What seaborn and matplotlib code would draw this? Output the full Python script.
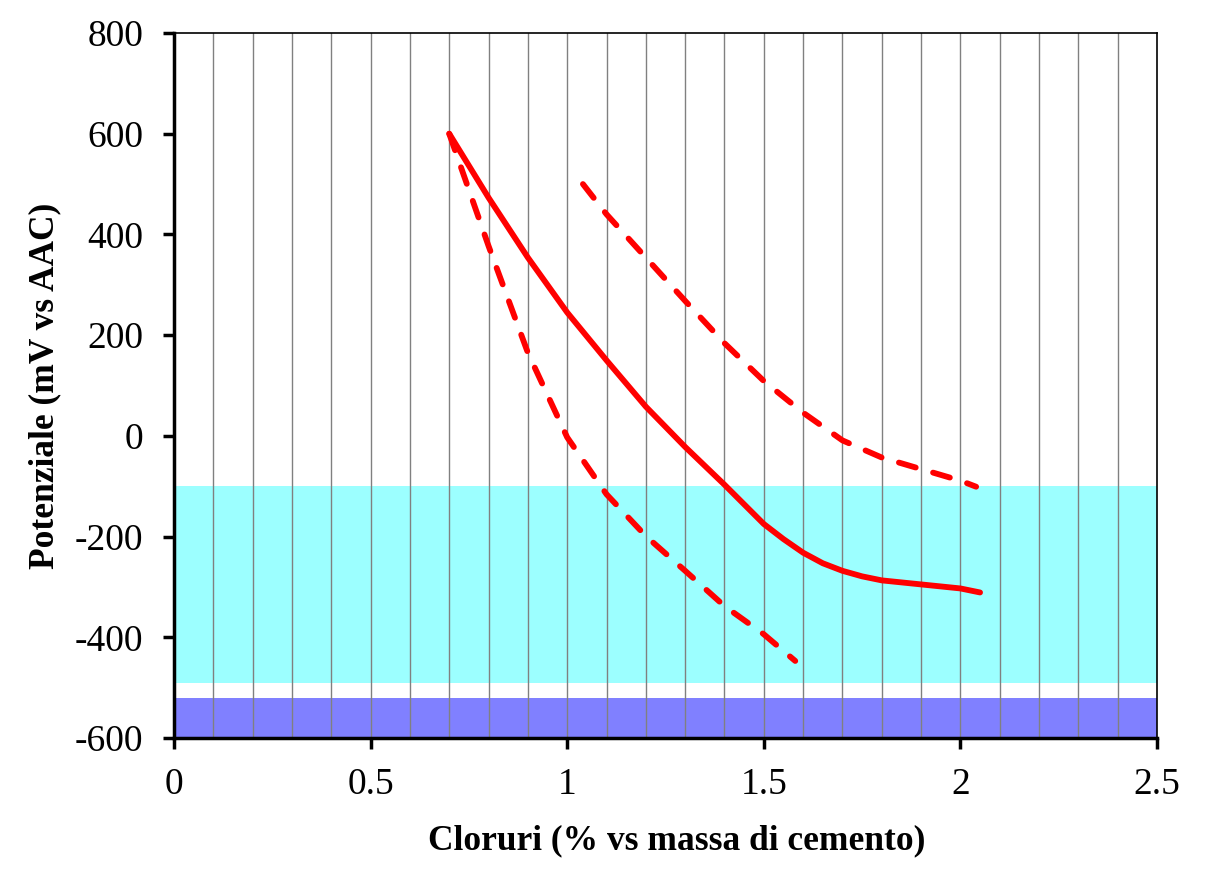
import matplotlib
matplotlib.use('Agg')
import matplotlib.pyplot as plt
import seaborn as sns
import pandas as pd
import numpy as np

# Curve values (chloride %, potential mV)
x_mid = [0.70, 0.80, 0.90, 1.00, 1.10, 1.20, 1.30, 1.40, 1.50, 1.55, 1.60, 1.65, 1.70, 1.75, 1.80, 1.90, 2.00, 2.05]
y_mid = [600, 473, 354, 245, 150, 58, -22, -97, -175, -205, -232, -253, -268, -279, -287, -295, -303, -311]

x_low = [0.70, 0.80, 0.90, 1.00, 1.10, 1.20, 1.30, 1.40, 1.50, 1.58]
y_low = [600, 377, 165, -3, -116, -199, -268, -338, -394, -447]

x_up = [1.04, 1.10, 1.20, 1.30, 1.40, 1.50, 1.60, 1.70, 1.80, 1.90, 2.00, 2.04]
y_up = [500, 440, 354, 268, 184, 109, 46, -9, -43, -66, -89, -101]

# Shaded potential bands (mV)
band_cyan = (-490, -100)
band_blue = (-600, -520)

x_ticks = [0, 0.5, 1, 1.5, 2, 2.5]
x_tick_labels = ['0', '0.5', '1', '1.5', '2', '2.5']
y_ticks = [-600, -400, -200, 0, 200, 400, 600, 800]


def main():
    sns.set_style('white')
    plt.rcParams['font.family'] = ['Liberation Serif', 'DejaVu Serif']
    plt.rcParams['axes.unicode_minus'] = False
    plt.rcParams['text.color'] = 'black'
    plt.rcParams['xtick.color'] = 'black'
    plt.rcParams['ytick.color'] = 'black'
    plt.rcParams['axes.labelcolor'] = 'black'

    fig = plt.figure(figsize=(12.18, 8.84), dpi=100)
    ax = fig.add_axes([174 / 1218, 1 - 738 / 884, (1157 - 174) / 1218, (738 - 33) / 884])

    # Bands
    ax.axhspan(*band_cyan, color='#9CFFFF', lw=0, zorder=0)
    ax.axhspan(*band_blue, color='#8080FF', lw=0, zorder=0)

    # Vertical grid every 0.1
    for gx in np.arange(0.1, 2.45, 0.1):
        ax.axvline(gx, color='#808080', lw=1.0, zorder=1)

    df_mid = pd.DataFrame({'x': x_mid, 'y': y_mid})
    df_low = pd.DataFrame({'x': x_low, 'y': y_low})
    df_up = pd.DataFrame({'x': x_up, 'y': y_up})

    for d in (df_mid, df_low, df_up):
        sns.lineplot(data=d, x='x', y='y', ax=ax, color='#FF0000',
                     sort=False, estimator=None, zorder=3)

    lines = ax.get_lines()[-3:]
    for i, line in enumerate(lines):
        line.set_linewidth(4.2)
        line.set_solid_capstyle('round')
        line.set_solid_joinstyle('round')
        if i > 0:
            line.set_dashes((3.0, 3.1))
            line.set_dash_capstyle('round')

    ax.set_xlim(0, 2.5)
    ax.set_ylim(-600, 800)
    ax.set_xticks(x_ticks)
    ax.set_xticklabels(x_tick_labels)
    ax.set_yticks(y_ticks)

    ax.tick_params(axis='both', which='major', direction='out', length=8, width=2.5,
                   labelsize=27, color='black', labelcolor='black', bottom=True, left=True)
    ax.tick_params(axis='y', pad=14)
    ax.tick_params(axis='x', pad=13)

    for side in ('left', 'bottom'):
        ax.spines[side].set_linewidth(2.5)
        ax.spines[side].set_color('black')
    for side in ('top', 'right'):
        ax.spines[side].set_linewidth(1.2)
        ax.spines[side].set_color('black')
        ax.spines[side].set_visible(True)

    ax.set_xlabel('Cloruri (% vs massa di cemento)', fontsize=25.5, fontweight='bold', labelpad=16, color='black')
    ax.set_ylabel('Potenziale (mV vs AAC)', fontsize=25.5, fontweight='bold', labelpad=10, color='black')
    ax.xaxis.label.set_x(0.511)

    fig.savefig('out.png', dpi=100)
    plt.close(fig)


if __name__ == "__main__":
    main()
